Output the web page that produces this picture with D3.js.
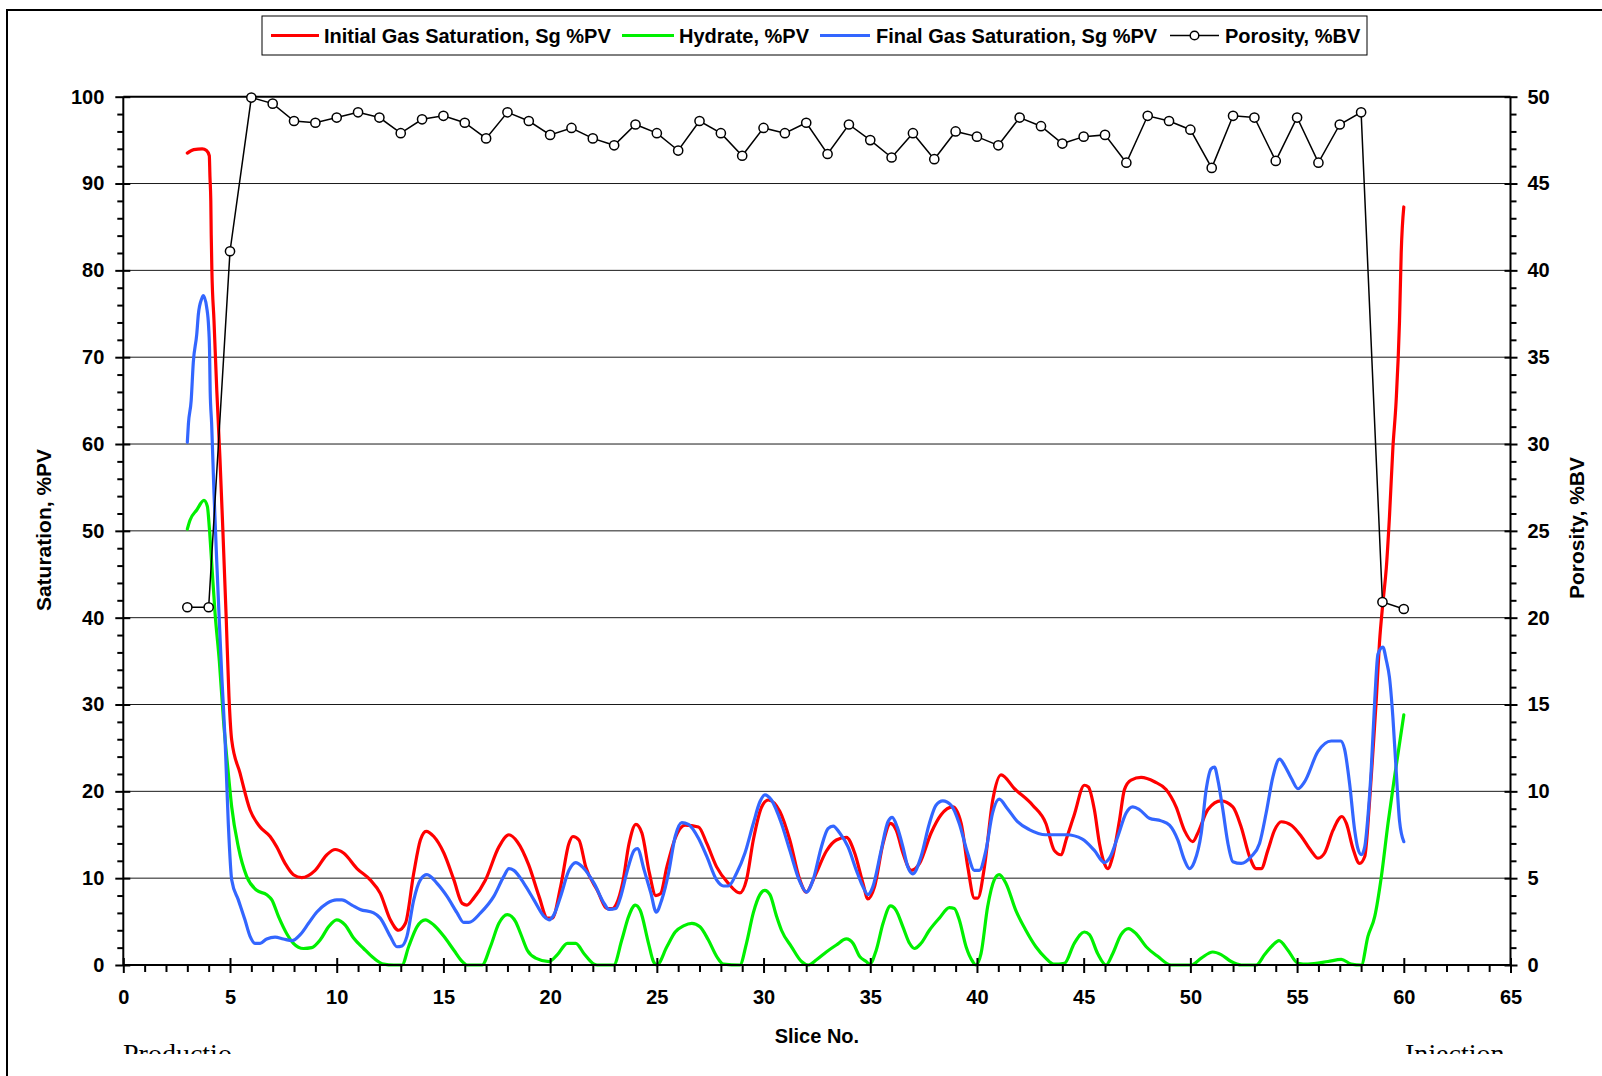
<!DOCTYPE html>
<html><head><meta charset="utf-8">
<script src="https://cdn.jsdelivr.net/npm/d3@7"></script>
<style>body{margin:0;background:#fff}svg{display:block}</style>
</head><body>
<svg id="c" width="1602" height="1076"></svg>
<script>
// ---------- DATA ----------
const legendLabels = ["Initial Gas Saturation, Sg %PV","Hydrate, %PV","Final Gas Saturation, Sg %PV","Porosity, %BV"];
const xTicks = [0,5,10,15,20,25,30,35,40,45,50,55,60,65];
const yLeftTicks = [0,10,20,30,40,50,60,70,80,90,100];
const yRightTicks = [0,5,10,15,20,25,30,35,40,45,50];

const poroSlices = [3,4,5,6,7,8,9,10,11,12,13,14,15,16,17,18,19,20,21,22,23,24,25,26,27,28,29,30,31,32,33,34,35,36,37,38,39,40,41,42,43,44,45,46,47,48,49,50,51,52,53,54,55,56,57,58,59,60];
const poroValues = [20.6,20.6,41.1,49.95,49.6,48.6,48.5,48.8,49.1,48.8,47.9,48.7,48.9,48.5,47.6,49.1,48.6,47.8,48.2,47.6,47.2,48.4,47.9,46.9,48.6,47.9,46.6,48.2,47.9,48.5,46.7,48.4,47.5,46.5,47.9,46.4,48.0,47.7,47.2,48.8,48.3,47.3,47.7,47.8,46.2,48.9,48.6,48.1,45.9,48.9,48.8,46.3,48.8,46.2,48.4,49.1,20.9,20.5];

const initialGas = [[3,93.5],[3.3,93.9],[3.7,94.0],[3.9,93.8],[4.03,93.2],[4.06,90.8],[4.1,88.0],[4.12,84.1],[4.15,80.1],[4.25,74.2],[4.38,66.2],[4.53,58.3],[4.66,50.4],[4.82,40.1],[4.95,31],[5.08,25.9],[5.47,22.1],[5.94,17.85],[6.41,15.9],[6.88,14.8],[7.19,13.6],[7.58,11.7],[7.97,10.4],[8.36,10.06],[8.99,10.9],[9.54,12.7],[9.93,13.3],[10.32,12.9],[10.95,11.1],[11.57,9.8],[12.04,8.25],[12.51,5.2],[12.9,4.0],[13.22,4.8],[13.61,10.6],[13.92,14.4],[14.19,15.4],[14.55,14.8],[15.02,12.9],[15.49,9.8],[15.88,7.1],[16.1,6.9],[16.42,7.7],[16.97,9.8],[17.6,13.6],[18.07,15.0],[18.46,14.2],[19.0,11.5],[19.48,7.9],[19.87,5.4],[20.1,5.4],[20.49,9.0],[20.88,14.0],[21.07,14.8],[21.35,14.4],[21.67,11.3],[22.21,8.6],[22.68,6.5],[22.92,6.5],[23.1,7.0],[23.4,9.5],[23.7,14.0],[24.02,16.2],[24.3,15.2],[24.65,10.6],[24.95,8.0],[25.17,8.2],[25.47,11.3],[25.86,14.6],[26.32,16.1],[26.95,15.9],[27.34,14.0],[27.8,11.3],[28.35,9.4],[28.89,8.3],[29.2,9.8],[29.52,14.4],[29.91,18.2],[30.22,19.0],[30.76,17.7],[31.23,14.4],[31.7,9.8],[32.0,8.4],[32.4,10.2],[32.94,13.1],[33.41,14.4],[33.88,14.7],[34.27,12.9],[34.66,9.4],[34.89,7.6],[35.2,9.0],[35.6,14.0],[35.95,16.3],[36.22,15.5],[36.53,12.9],[36.92,10.9],[37.31,11.7],[37.85,15.2],[38.32,17.3],[38.87,18.2],[39.26,16.3],[39.57,11.3],[39.88,7.7],[40.04,7.7],[40.35,11.3],[40.74,19.0],[41.13,21.9],[41.76,20.3],[42.61,18.4],[43.23,16.3],[43.62,13.2],[43.93,12.7],[44.2,14.6],[44.56,17.3],[45.03,20.7],[45.22,20.5],[45.5,17.9],[45.74,14.0],[45.97,11.7],[46.13,11.1],[46.36,12.5],[46.68,16.7],[46.91,20.2],[47.22,21.3],[47.69,21.6],[48.32,21.1],[48.86,20.2],[49.33,18.2],[49.72,15.5],[50.11,14.2],[50.35,15.2],[50.82,17.9],[51.44,18.9],[51.99,18.2],[52.38,15.9],[52.77,12.5],[53.09,11.1],[53.32,11.1],[53.63,13.2],[53.94,15.5],[54.26,16.5],[54.73,16.1],[55.2,14.8],[55.67,13.1],[55.98,12.3],[56.29,12.9],[56.68,15.5],[57.1,17.1],[57.31,16.3],[57.62,13.4],[57.93,11.7],[58.17,12.5],[58.4,19.0],[58.56,24.8],[58.71,30.5],[58.86,37.1],[59.02,41.7],[59.18,45.7],[59.33,51.7],[59.49,59.6],[59.64,64.9],[59.8,74.2],[59.88,82.1],[60.0,87.3]];

const hydrate = [[3,50.2],[3.12,51.2],[3.44,52.4],[3.78,53.5],[3.94,52.8],[4.03,50.4],[4.14,46.4],[4.3,40.5],[4.5,35],[4.7,28],[4.92,22.1],[5.08,18.2],[5.39,13.6],[5.78,10.2],[6.25,8.6],[6.72,8.1],[6.96,7.5],[7.27,5.6],[7.66,3.6],[7.97,2.5],[8.44,1.9],[8.83,2.0],[9.23,2.9],[9.62,4.4],[10.0,5.2],[10.4,4.6],[10.79,3.1],[11.26,1.9],[11.73,0.8],[12.2,0.1],[12.67,0],[13.06,0],[13.37,2.1],[13.76,4.4],[14.15,5.2],[14.55,4.6],[15.02,3.3],[15.49,1.7],[15.88,0.4],[16.1,0],[16.81,0],[17.2,2.1],[17.6,4.8],[17.99,5.8],[18.38,5.0],[18.62,3.6],[18.93,1.7],[19.32,0.8],[19.95,0.4],[20.34,1.2],[20.81,2.5],[21.2,2.5],[21.59,1.3],[22.06,0.1],[22.2,0],[22.98,0],[23.36,2.9],[23.68,5.6],[23.99,6.9],[24.22,6.3],[24.61,2.5],[24.84,0.4],[25.0,0],[25.47,2.1],[25.86,3.8],[26.25,4.5],[26.64,4.8],[27.02,4.4],[27.41,2.9],[27.8,1.0],[28.12,0.1],[28.89,0],[29.2,2.5],[29.52,6.0],[29.83,8.1],[30.06,8.6],[30.3,8.1],[30.61,5.6],[30.84,4.0],[31.31,2.1],[31.78,0.4],[32.09,0],[32.48,0.6],[32.94,1.5],[33.41,2.3],[33.88,3.0],[34.19,2.5],[34.5,1.0],[34.81,0.4],[34.97,0.1],[35.28,1.7],[35.6,4.8],[35.95,6.8],[36.21,6.3],[36.53,4.4],[36.84,2.5],[37.07,1.9],[37.38,2.5],[37.77,4.0],[38.24,5.4],[38.71,6.6],[38.94,6.5],[39.17,5.2],[39.49,2.1],[39.8,0.4],[39.95,0],[40.19,1.3],[40.5,6.7],[40.81,9.8],[41.04,10.4],[41.36,9.4],[41.82,6.3],[42.29,4.0],[42.76,2.1],[43.22,0.8],[43.6,0.1],[44.1,0.2],[44.56,2.5],[45.03,3.8],[45.27,3.5],[45.66,1.3],[46.05,0],[46.36,1.3],[46.75,3.5],[47.1,4.2],[47.46,3.6],[47.93,2.1],[48.47,1.0],[49.1,0],[50.04,0],[50.51,0.8],[51.05,1.5],[51.44,1.2],[51.91,0.4],[52.38,0],[53.09,0],[53.48,1.2],[53.87,2.3],[54.15,2.8],[54.57,1.7],[55.04,0.2],[55.51,0.1],[56.45,0.4],[57.07,0.65],[57.54,0.1],[58.01,0],[58.32,3.3],[58.64,5.6],[58.95,10.2],[59.26,16.3],[59.57,21.7],[60.0,28.8]];

const finalGas = [[3,60.2],[3.05,62.3],[3.18,65.0],[3.28,69.4],[3.44,72.6],[3.52,75.0],[3.67,76.7],[3.75,77.1],[3.91,75.7],[4.0,73.4],[4.04,71.0],[4.07,66.2],[4.14,62.3],[4.25,54.3],[4.38,46.4],[4.49,40.1],[4.62,33],[4.77,25.9],[4.92,16.3],[5.08,9.8],[5.39,7.5],[5.7,5.2],[5.94,3.3],[6.17,2.5],[6.41,2.5],[6.72,3.0],[7.11,3.2],[7.5,3.0],[7.9,2.8],[8.29,3.5],[8.68,4.8],[9.07,6.1],[9.54,7.1],[10.0,7.5],[10.24,7.5],[10.71,6.9],[11.1,6.4],[11.73,6.0],[12.04,5.4],[12.51,3.3],[12.82,2.1],[13.06,2.2],[13.29,3.3],[13.61,7.5],[13.92,9.8],[14.23,10.4],[14.7,9.4],[15.17,7.9],[15.64,6.0],[15.95,4.9],[16.19,4.9],[16.74,6.0],[17.36,7.9],[17.83,10.2],[18.07,11.1],[18.3,10.9],[18.77,9.4],[19.24,7.5],[19.71,5.6],[19.95,5.2],[20.18,5.8],[20.49,7.9],[20.88,10.9],[21.2,11.8],[21.51,11.3],[22.06,9.4],[22.53,7.1],[22.76,6.4],[23.08,6.5],[23.31,7.9],[23.62,10.9],[23.94,13.2],[24.09,13.4],[24.41,10.9],[24.72,8.3],[24.97,6.1],[25.23,7.5],[25.55,10.6],[25.86,14.8],[26.17,16.4],[26.48,16.2],[26.95,14.6],[27.34,12.5],[27.8,9.8],[28.12,9.1],[28.35,9.1],[28.74,10.6],[29.13,12.9],[29.52,16.3],[29.83,18.8],[30.06,19.6],[30.37,19.0],[30.84,16.3],[31.23,13.2],[31.7,9.6],[32.01,8.4],[32.32,9.8],[32.71,13.6],[33.02,15.7],[33.26,16.0],[33.57,15.2],[33.96,13.6],[34.35,10.9],[34.66,9.0],[34.89,8.1],[35.12,9.0],[35.51,13.2],[35.83,16.5],[36.03,17.0],[36.26,15.9],[36.53,13.6],[36.76,11.3],[37.0,10.5],[37.38,12.5],[37.77,16.3],[38.08,18.4],[38.4,18.9],[38.79,18.4],[39.17,16.3],[39.56,12.9],[39.88,10.9],[40.11,10.9],[40.42,13.2],[40.73,17.5],[41.04,19.1],[41.43,18.0],[41.9,16.5],[42.45,15.6],[43.22,15.0],[44.2,15.0],[44.94,14.5],[45.5,13.2],[45.97,11.8],[46.21,12.3],[46.6,14.8],[46.99,17.5],[47.3,18.2],[47.61,17.9],[48.08,16.9],[48.63,16.6],[49.02,16.1],[49.41,14.4],[49.72,12.1],[49.96,11.1],[50.19,11.9],[50.51,15.2],[50.74,20.2],[50.97,22.6],[51.13,22.8],[51.29,21.3],[51.52,17.9],[51.76,14.0],[51.99,11.9],[52.38,11.7],[52.85,12.5],[53.24,14.0],[53.55,17.5],[53.87,21.7],[54.18,23.7],[54.41,23.0],[54.73,21.5],[55.04,20.3],[55.35,21.1],[55.98,24.6],[56.6,25.8],[57.04,25.8],[57.23,24.8],[57.46,20.9],[57.7,15.5],[57.85,13.4],[58.01,12.7],[58.17,13.6],[58.32,17.1],[58.48,22.8],[58.64,30.5],[58.79,35.8],[59.02,36.6],[59.18,35.1],[59.33,33.1],[59.49,28.5],[59.64,22.5],[59.8,16.6],[60.0,14.2]];

// ---------- DRAW ----------
const svg = d3.select("#c");
const L = 123.3, R = 1510.5, T = 96.7, B = 965;
const x = d3.scaleLinear().domain([0,65]).range([L,R]);
const y = d3.scaleLinear().domain([0,100]).range([B,T]);
const yR = d3.scaleLinear().domain([0,50]).range([B,T]);
const FONT = "'Liberation Sans', Arial, sans-serif";

svg.append("rect").attr("width",1602).attr("height",1076).attr("fill","#fff");
// outer frame
svg.append("path").attr("d","M7,1080 L7,10 L1610,10").attr("fill","none").attr("stroke","#000").attr("stroke-width",2);

// gridlines
svg.append("g").selectAll("line").data(yLeftTicks.filter(v=>v>0&&v<100)).join("line")
  .attr("x1",L).attr("x2",R).attr("y1",d=>y(d)).attr("y2",d=>y(d))
  .attr("stroke","#1a1a1a").attr("stroke-width",1);

// curves
const line = d3.line().x(d=>x(d[0])).y(d=>y(d[1])).curve(d3.curveMonotoneX);
const series = [[initialGas,"#ff0000"],[hydrate,"#00f000"],[finalGas,"#3366ff"]];
series.forEach(([data,col])=>{
  svg.append("path").datum(data).attr("d",line).attr("fill","none")
    .attr("stroke",col).attr("stroke-width",3.2).attr("stroke-linejoin","round").attr("stroke-linecap","round");
});

// axes
function styleAxis(g){ g.select(".domain").remove(); g.selectAll("line").attr("stroke","#000").attr("stroke-width",2);
  g.selectAll("text").attr("font-family",FONT).attr("font-weight","bold").attr("font-size",20).attr("fill","#000"); }
const minorX = d3.range(0,66,1).filter(v=>v%5);
const minorY = d3.range(0,101,2).filter(v=>v%10);
const minorYR = d3.range(0,51,1).filter(v=>v%5);

svg.append("g").attr("transform",`translate(0,${B})`).call(d3.axisBottom(x).tickValues(xTicks).tickSize(8).tickPadding(17)).call(styleAxis);
svg.append("g").attr("transform",`translate(0,${B})`).call(d3.axisTop(x).tickValues(xTicks).tickSize(7).tickFormat("")).call(styleAxis);
svg.append("g").attr("transform",`translate(0,${B})`).call(d3.axisBottom(x).tickValues(minorX).tickSize(7).tickFormat("")).call(styleAxis);

svg.append("g").attr("transform",`translate(${L},0)`).call(d3.axisLeft(y).tickValues(yLeftTicks).tickSize(8).tickPadding(11)).call(styleAxis);
svg.append("g").attr("transform",`translate(${L},0)`).call(d3.axisRight(y).tickValues(yLeftTicks).tickSize(7).tickFormat("")).call(styleAxis);
svg.append("g").attr("transform",`translate(${L},0)`).call(d3.axisLeft(y).tickValues(minorY).tickSize(6).tickFormat("")).call(styleAxis);

svg.append("g").attr("transform",`translate(${R},0)`).call(d3.axisRight(yR).tickValues(yRightTicks).tickSize(7).tickPadding(10)).call(styleAxis);
svg.append("g").attr("transform",`translate(${R},0)`).call(d3.axisLeft(yR).tickValues(yRightTicks).tickSize(6).tickFormat("")).call(styleAxis);
svg.append("g").attr("transform",`translate(${R},0)`).call(d3.axisRight(yR).tickValues(minorYR).tickSize(6).tickFormat("")).call(styleAxis);

// plot frame lines
const fr = svg.append("g").attr("stroke","#000").attr("stroke-width",2);
fr.append("line").attr("x1",L).attr("x2",R).attr("y1",T).attr("y2",T);
fr.append("line").attr("x1",L).attr("x2",R).attr("y1",B).attr("y2",B);
fr.append("line").attr("x1",L).attr("x2",L).attr("y1",T).attr("y2",B);
fr.append("line").attr("x1",R).attr("x2",R).attr("y1",T).attr("y2",B);

// porosity
const poro = poroSlices.map((s,i)=>[s,poroValues[i]]);
svg.append("path").datum(poro).attr("d",d3.line().x(d=>x(d[0])).y(d=>yR(d[1])))
  .attr("fill","none").attr("stroke","#000").attr("stroke-width",1.5);
svg.append("g").selectAll("circle").data(poro).join("circle")
  .attr("cx",d=>x(d[0])).attr("cy",d=>yR(d[1])).attr("r",4.6)
  .attr("fill","#fff").attr("stroke","#000").attr("stroke-width",1.5);

// axis titles
svg.append("text").attr("x",(L+R)/2).attr("y",1043).attr("text-anchor","middle")
  .attr("font-family",FONT).attr("font-weight","bold").attr("font-size",20).text("Slice No.");
svg.append("text").attr("transform","translate(51,530) rotate(-90)").attr("text-anchor","middle")
  .attr("font-family",FONT).attr("font-weight","bold").attr("font-size",21).text("Saturation, %PV");
svg.append("text").attr("transform","translate(1584,528) rotate(-90)").attr("text-anchor","middle")
  .attr("font-family",FONT).attr("font-weight","bold").attr("font-size",21).text("Porosity, %BV");

// clipped bottom notes
svg.append("clipPath").attr("id","bc").append("rect").attr("x",0).attr("y",0).attr("width",1602).attr("height",1054);
const notes = svg.append("g").attr("clip-path","url(#bc)").attr("font-family","'Liberation Serif','Times New Roman',serif").attr("font-size",28);
notes.append("text").attr("x",123).attr("y",1063).text("Productio");
notes.append("text").attr("x",1405).attr("y",1063).text("Injection");

// legend
const lg = svg.append("g");
lg.append("rect").attr("x",262).attr("y",16).attr("width",1105).attr("height",39).attr("fill","#fff").attr("stroke","#000").attr("stroke-width",1);
const items = [
  {lx:[271,319], tx:324, col:"#ff0000"},
  {lx:[622,674], tx:679, col:"#00f000"},
  {lx:[820,870], tx:876, col:"#3366ff"},
  {lx:[1170,1219], tx:1225, col:"#000", marker:true}
];
items.forEach((it,i)=>{
  lg.append("line").attr("x1",it.lx[0]).attr("x2",it.lx[1]).attr("y1",35.5).attr("y2",35.5)
    .attr("stroke",it.col).attr("stroke-width",it.marker?1.5:3.2);
  if(it.marker) lg.append("circle").attr("cx",(it.lx[0]+it.lx[1])/2).attr("cy",35.5).attr("r",4.3)
    .attr("fill","#fff").attr("stroke","#000").attr("stroke-width",1.5);
  lg.append("text").attr("x",it.tx).attr("y",42.5).attr("font-family",FONT).attr("font-weight","bold")
    .attr("font-size",20).text(legendLabels[i]);
});
</script>
</body></html>
